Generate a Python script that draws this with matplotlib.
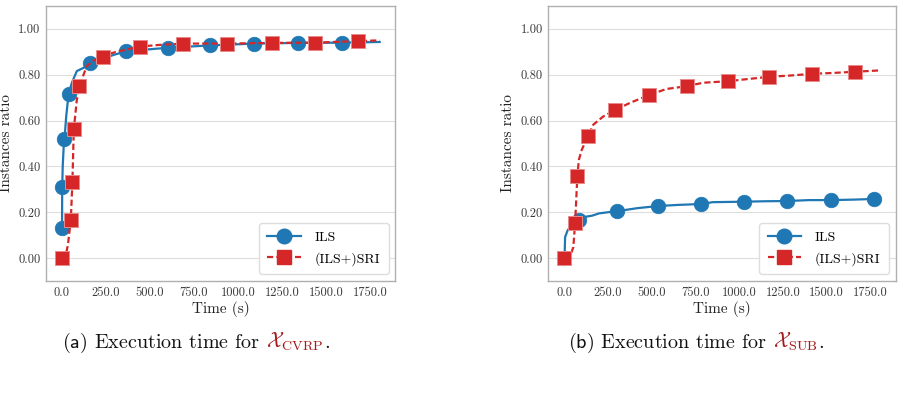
import matplotlib
matplotlib.use('Agg')
import matplotlib.pyplot as plt
from matplotlib.ticker import FormatStrFormatter

# ---- data ----
# (a) CVRP instances
ils_a_t = [1, 2, 5, 10, 15, 25, 38, 57, 85, 123, 161, 200, 250, 300, 364, 450, 604, 844, 1093, 1344, 1591, 1805]
ils_a_y = [0.133, 0.309, 0.40, 0.48, 0.519, 0.62, 0.715, 0.765, 0.816, 0.83, 0.85, 0.862, 0.875, 0.888, 0.902,
           0.908, 0.918, 0.928, 0.936, 0.939, 0.940, 0.943]
ils_a_mt = [1, 2, 15, 38, 161, 364, 604, 844, 1093, 1344, 1591]
ils_a_my = [0.133, 0.309, 0.519, 0.715, 0.85, 0.902, 0.918, 0.928, 0.936, 0.939, 0.940]

sri_a_t = [0, 19, 35, 51, 60, 68, 85, 100, 142, 180, 231, 300, 443, 550, 687, 939, 1191, 1437, 1683, 1805]
sri_a_y = [0.0, 0.0, 0.06, 0.168, 0.333, 0.563, 0.69, 0.753, 0.838, 0.862, 0.882, 0.898, 0.923, 0.93, 0.936,
           0.936, 0.939, 0.940, 0.947, 0.950]
sri_a_mt = [0, 51, 60, 68, 100, 233, 443, 687, 939, 1191, 1437, 1683]
sri_a_my = [0.0, 0.168, 0.333, 0.563, 0.753, 0.879, 0.923, 0.936, 0.936, 0.939, 0.940, 0.947]

# (b) SUB instances
ils_b_t = [0, 3, 6, 20, 34, 55, 83, 120, 160, 200, 250, 303, 350, 420, 535, 650, 784, 850, 1026, 1150, 1275,
           1400, 1523, 1650, 1770, 1805]
ils_b_y = [0.0, 0.0, 0.092, 0.12, 0.136, 0.152, 0.166, 0.18, 0.185, 0.195, 0.2, 0.205, 0.21, 0.218, 0.227,
           0.232, 0.236, 0.244, 0.246, 0.248, 0.249, 0.253, 0.253, 0.255, 0.258, 0.259]
ils_b_mt = [0, 83, 303, 535, 784, 1026, 1275, 1523, 1770]
ils_b_my = [0.0, 0.166, 0.205, 0.227, 0.236, 0.246, 0.249, 0.253, 0.258]

sri_b_t = [0, 34, 45, 53, 63, 70, 76, 85, 101, 138, 167, 224, 289, 376, 484, 585, 702, 793, 938, 1059, 1172,
           1300, 1417, 1540, 1660, 1805]
sri_b_y = [0.0, 0.012, 0.03, 0.048, 0.151, 0.26, 0.36, 0.43, 0.472, 0.534, 0.582, 0.618, 0.645, 0.677, 0.711,
           0.738, 0.75, 0.765, 0.772, 0.782, 0.791, 0.797, 0.804, 0.808, 0.813, 0.819]
sri_b_mt = [0, 63, 76, 138, 289, 484, 702, 938, 1172, 1417, 1660]
sri_b_my = [0.0, 0.151, 0.36, 0.534, 0.645, 0.711, 0.75, 0.772, 0.791, 0.804, 0.813]

x_ticks = [0, 250, 500, 750, 1000, 1250, 1500, 1750]
y_ticks = [0.0, 0.2, 0.4, 0.6, 0.8, 1.0]
labels = ['ILS', '(ILS+)SRI']
captions = [(r'$\mathsf{(a)}$ Execution time for ', r'$\mathcal{X}_{\mathrm{CVRP}}$'),
            (r'$\mathsf{(b)}$ Execution time for ', r'$\mathcal{X}_{\mathrm{SUB}}$')]

plt.rcParams['font.family'] = 'serif'
plt.rcParams['font.serif'] = ['cmr10', 'DejaVu Serif']
plt.rcParams['mathtext.fontset'] = 'cm'
plt.rcParams['axes.unicode_minus'] = False

BLUE = '#1f77b4'
RED = '#d62728'
DARKRED = '#a31b1b'

fig = plt.figure(figsize=(9.04, 4.07), dpi=100)
W, H = 904.0, 407.0
boxes = [(46, 395.5), (548.3, 895.7)]
series = [(ils_a_t, ils_a_y, ils_a_mt, ils_a_my, sri_a_t, sri_a_y, sri_a_mt, sri_a_my),
          (ils_b_t, ils_b_y, ils_b_mt, ils_b_my, sri_b_t, sri_b_y, sri_b_mt, sri_b_my)]

for (x0, x1), s in zip(boxes, series):
    ax = fig.add_axes([x0 / W, 1 - 281 / H, (x1 - x0) / W, 275 / H])
    it, iy, imt, imy, st, sy, smt, smy = s
    ax.plot(it, iy, color=BLUE, lw=1.6, zorder=3)
    ax.plot(imt, imy, 'o', color=BLUE, ms=10.5, mec=BLUE, mew=0.5, zorder=3)
    ax.plot(st, sy, '--', color=RED, lw=1.6, dashes=(2.8, 1.4), zorder=4)
    ax.plot(smt, smy, 's', color=RED, ms=9.5, mec='#e88a8a', mew=0.7, zorder=4)
    # legend proxies
    h1, = ax.plot([], [], '-o', color=BLUE, lw=1.6, ms=10.5)
    h2, = ax.plot([], [], '--s', color=RED, lw=1.6, ms=9.5, dashes=(2.8, 1.4))
    leg = ax.legend([h1, h2], labels, loc='lower right', fontsize=10, handlelength=2.4,
                    borderpad=0.6, labelspacing=0.55, handletextpad=1.0, fancybox=True,
                    framealpha=1, edgecolor='#dddddd')
    ax.set_xlim(-90, 1895)
    ax.set_ylim(-0.1, 1.1)
    ax.set_xticks(x_ticks)
    ax.set_yticks(y_ticks)
    ax.xaxis.set_major_formatter(FormatStrFormatter('%.1f'))
    ax.yaxis.set_major_formatter(FormatStrFormatter('%.2f'))
    ax.tick_params(length=0, labelsize=9, colors='#3a3a3a', pad=4)
    ax.grid(axis='y', color='#dedede', lw=0.8)
    ax.set_axisbelow(True)
    for sp in ax.spines.values():
        sp.set_color('#b0b0b0')
        sp.set_linewidth(1.0)
    ax.set_xlabel('Time (s)', fontsize=11, color='#222222', labelpad=2)
    ax.set_ylabel('Instances ratio', fontsize=11, color='#222222', labelpad=4)

# captions, pieces placed one after another on the same baseline
renderer = fig.canvas.get_renderer()
cap_x = [62, 568]
cap_base = 1 - 347.5 / H
for cx, (txt, sym) in zip(cap_x, captions):
    t1 = fig.text(cx / W, cap_base, txt, fontsize=14.5, va='baseline', ha='left', color='#111111')
    e1 = t1.get_window_extent(renderer)
    t2 = fig.text(e1.x1 / W + 0.006, cap_base, sym, fontsize=14.5, va='baseline', ha='left', color=DARKRED)
    e2 = t2.get_window_extent(renderer)
    fig.text(e2.x1 / W + 0.001, cap_base, '.', fontsize=14.5, va='baseline', ha='left', color='#111111')

fig.savefig('out.png', dpi=100)
